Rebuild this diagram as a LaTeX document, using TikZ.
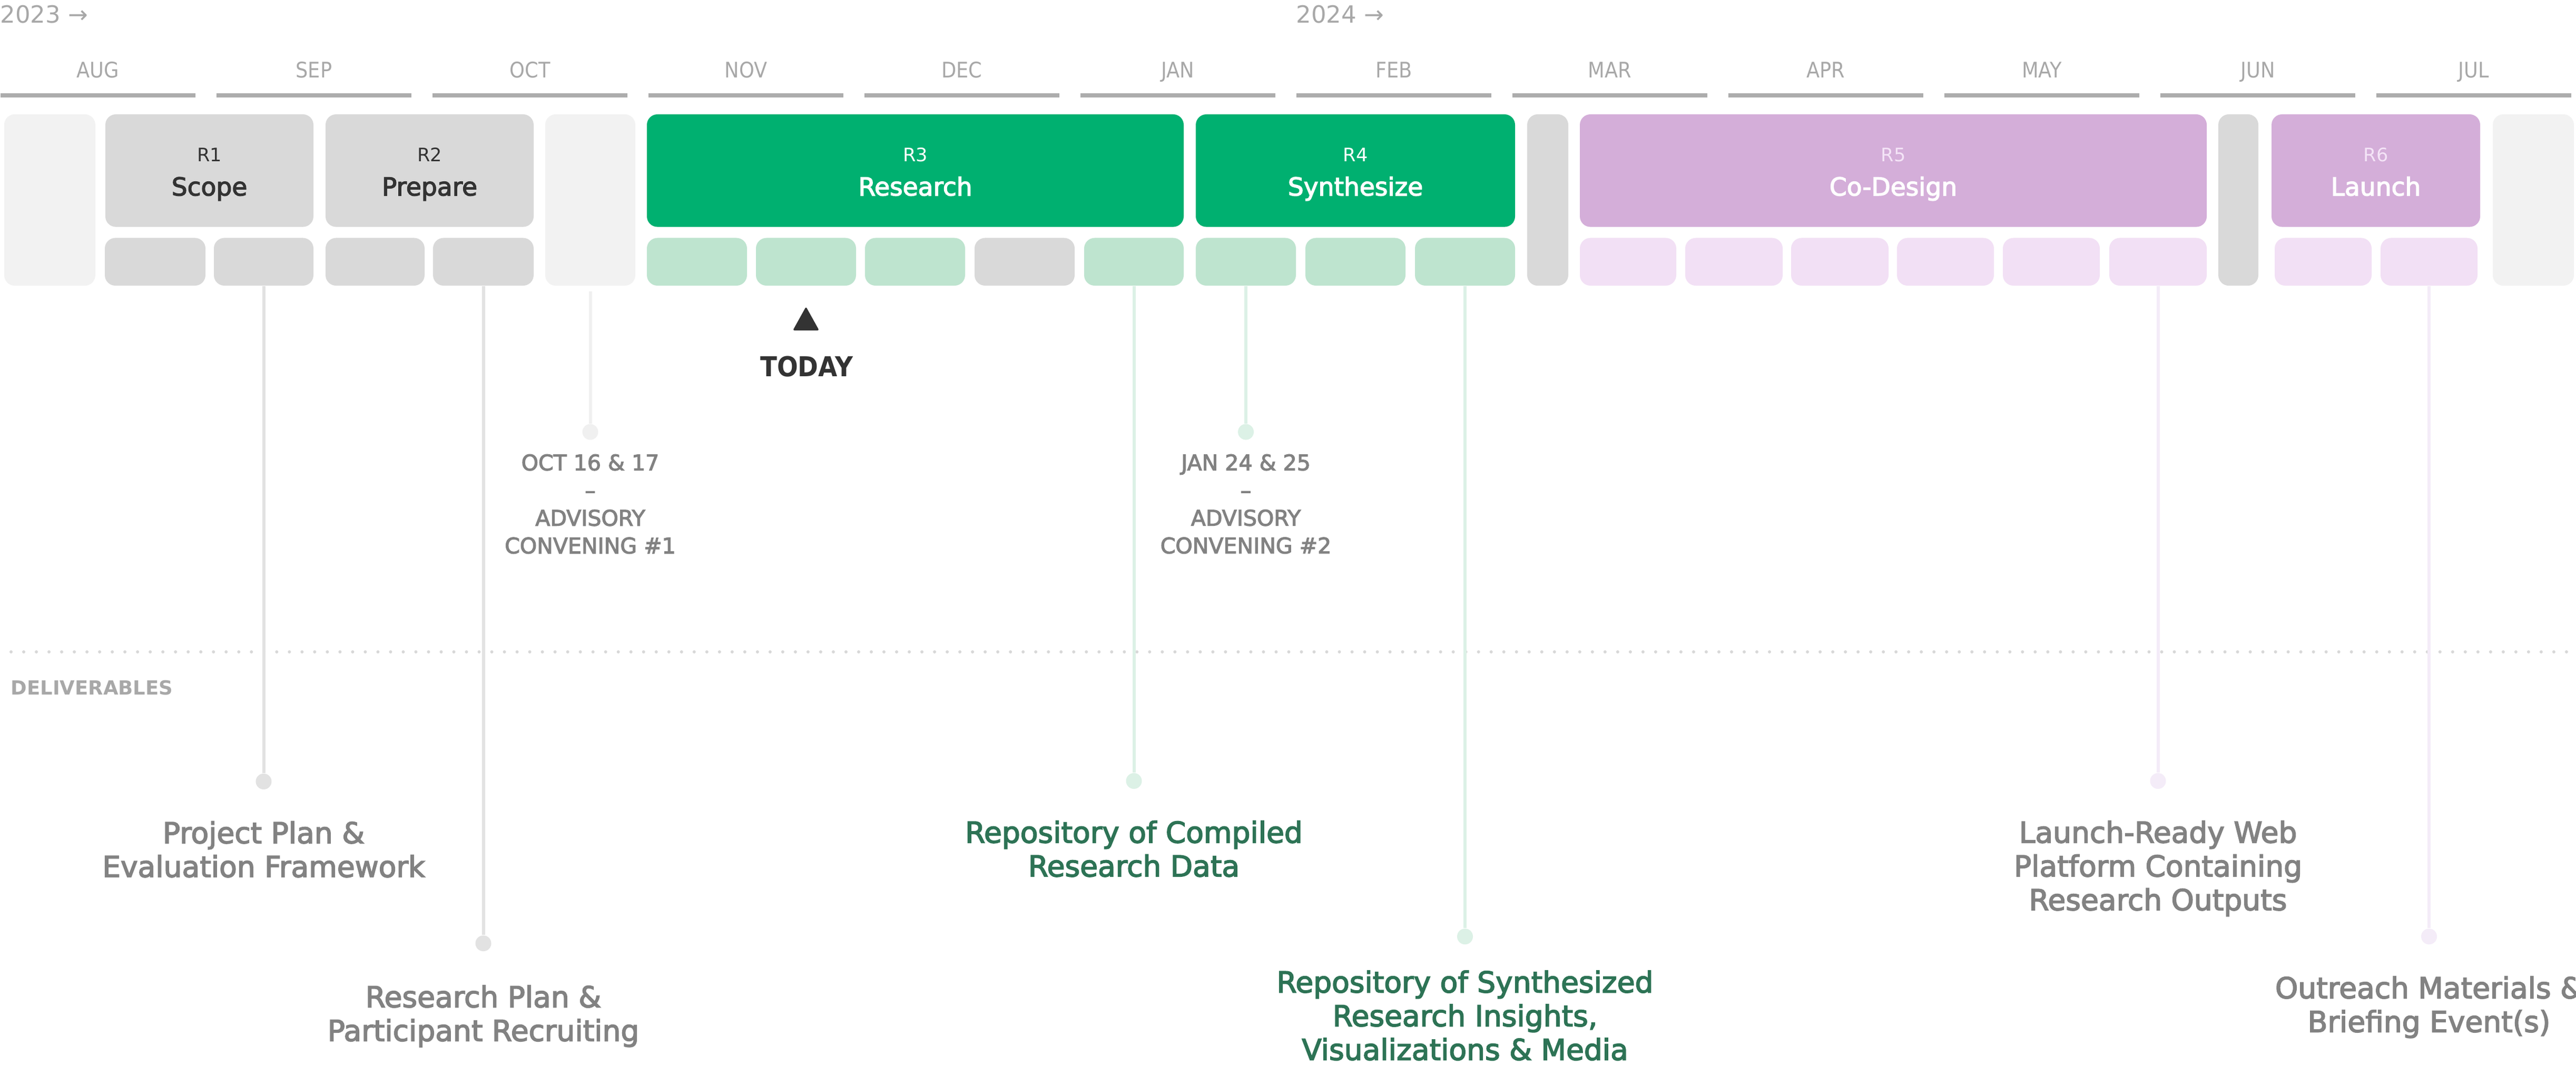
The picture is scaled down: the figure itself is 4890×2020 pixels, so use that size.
\documentclass[tikz,border=0pt]{standalone}
\usepackage{fontspec}
\setmainfont{DejaVu Sans}
\newfontfamily\narrowfont{DejaVu Sans Condensed}
\newfontfamily\medfont{DejaVu Sans}[FakeBold=3]
\usetikzlibrary{positioning}

\definecolor{monthbar}{HTML}{ADADAD}
\definecolor{monthtext}{HTML}{A8A8A8}
\definecolor{paleblock}{HTML}{F2F2F2}
\definecolor{grayblock}{HTML}{D9D9D9}
\definecolor{greenblock}{HTML}{00B070}
\definecolor{greencell}{HTML}{BEE4CF}
\definecolor{purpleblock}{HTML}{D4AED9}
\definecolor{purplecell}{HTML}{F2E0F5}
\definecolor{purplenum}{HTML}{F4E4F7}
\definecolor{darktext}{HTML}{333333}
\definecolor{labeltext}{HTML}{828282}
\definecolor{greentext}{HTML}{2D7355}
\definecolor{linegray}{HTML}{E2E2E2}
\definecolor{linepale}{HTML}{F0F0F0}
\definecolor{linegreen}{HTML}{DCF1E6}
\definecolor{linepurple}{HTML}{F4ECF8}
\definecolor{dotrule}{HTML}{D8D8D8}

\begin{document}
\begin{tikzpicture}[x=0.01cm, y=-0.01cm,
year/.style = {font=\fontsize{12.8}{15}\selectfont, text=monthtext, inner sep=0, anchor=base west},
bar/.style = {rectangle, fill=monthbar, inner sep=0, minimum height=0.08cm, minimum width=3.7cm},
month/.style = {font=\narrowfont\fontsize{11.6}{13}\selectfont, text=monthtext, inner sep=0, text depth=0pt},
block/.style = {rectangle, rounded corners=2mm, inner sep=0},
cell/.style = {block, minimum height=0.905cm},
phase/.style = {block, minimum height=2.135cm},
spacer/.style = {block, minimum height=3.25cm},
rnum/.style = {font=\fontsize{10}{12}\selectfont, inner sep=0, anchor=base},
rtitle/.style = {font=\medfont\fontsize{13.4}{16}\selectfont, inner sep=0, anchor=base},
link/.style = {line width=0.06cm},
dot/.style = {circle, inner sep=0, minimum size=0.3cm},
event/.style = {font=\medfont\fontsize{11.67}{14.94}\selectfont, text=labeltext, align=center, inner sep=0},
deliv/.style = {font=\medfont\fontsize{15.65}{18.21}\selectfont, align=center, inner sep=0}]
\useasboundingbox (0,0) rectangle (4890,2020);
\fill[white] (0,0) rectangle (4890,2020);

% years and months
\node[year] (y23) at (0,43) {2023 →};
\node[year] (y24) at (2460,43) {2024 →};
\foreach \m [count=\i from 0] in {AUG,SEP,OCT,NOV,DEC,JAN,FEB,MAR,APR,MAY,JUN,JUL} {
  \node[bar] (bar\i) at ({186+410*\i},181) {};
  \node[month, above=0.28cm of bar\i] (m\i) {\m};
}

% blocks
\foreach \a/\b/\c [count=\k] in {8/181/paleblock, 1035/1206/paleblock, 2899/2977/grayblock, 4211/4287/grayblock, 4732/4886/paleblock}
  \node[spacer, fill=\c, minimum width={(\b-\a)*0.01cm}] (t\k) at ({(\a+\b)/2},379.5) {};

\foreach \a/\b/\c/\nc/\tc/\n/\t [count=\k] in {200/595/grayblock/darktext/darktext/R1/Scope,
  618/1013/grayblock/darktext/darktext/R2/Prepare,
  1228/2247/greenblock/white/white/R3/Research,
  2270/2876/greenblock/white/white/R4/Synthesize,
  2999/4189/purpleblock/purplenum/white/R5/Co-Design,
  4312/4708/purpleblock/purplenum/white/R6/Launch} {
  \node[phase, fill=\c, minimum width={(\b-\a)*0.01cm}] (r\k) at ({(\a+\b)/2},323.75) {};
  \node[rnum, text=\nc] (n\k) at ([yshift=0.1775cm]r\k.center) {\n};
  \node[rtitle, text=\tc] (l\k) at ([yshift=-0.4725cm]r\k.center) {\t};
}

\foreach \a/\b/\c [count=\k] in {199/390/grayblock, 406/595/grayblock, 618/806/grayblock, 822/1013/grayblock,
  1228/1418/greencell, 1435/1625/greencell, 1642/1832/greencell, 1850/2040/grayblock, 2058/2247/greencell,
  2270/2460/greencell, 2478/2668/greencell, 2686/2876/greencell,
  2999/3182/purplecell, 3199/3384/purplecell, 3400/3585/purplecell, 3601/3785/purplecell, 3802/3986/purplecell, 4004/4189/purplecell,
  4318/4502/purplecell, 4519/4703/purplecell}
  \node[cell, fill=\c, minimum width={(\b-\a)*0.01cm}] (s\k) at ({(\a+\b)/2},496.75) {};

% today
\fill[darktext, rounded corners=0.3mm] (1505,627) -- (1530,582) -- (1555,627) -- cycle;
\node[font=\narrowfont\bfseries\fontsize{14.8}{17}\selectfont, text=darktext, inner sep=0] (today) at (1531,695.5) {TODAY};

% advisory convenings
\node[dot, fill=linepale, below=2.61cm of t2] (e1) {};
\draw[link, linepale, shorten <=0.1cm] (t2) -- (e1);
\node[event, below=0.26cm of e1] (ev1) {OCT 16 \& 17\\–\\ADVISORY\\CONVENING \#1};
\node[dot, fill=linegreen, below=2.61cm of s10] (e2) {};
\draw[link, linegreen] (s10) -- (e2);
\node[event, below=0.26cm of e2] (ev2) {JAN 24 \& 25\\–\\ADVISORY\\CONVENING \#2};

% deliverables
\draw[dotrule, line width=0.06cm, line cap=round, dash pattern=on 0pt off 0.24cm] (21,1237) -- (4890,1237);
\node[font=\bfseries\fontsize{10.5}{12}\selectfont, text=monthtext, inner sep=0, anchor=base west] (dlv) at (20,1318) {DELIVERABLES};

\node[dot, fill=linegray, below=9.24cm of s2] (d1) {};
\draw[link, linegray] (s2) -- (d1);
\node[deliv, text=labeltext, below=0.59cm of d1] (p1) {Project Plan \&\\Evaluation Framework};
\node[dot, fill=linegray, below=12.31cm of s4] (d2) {};
\draw[link, linegray] (s4) -- (d2);
\node[deliv, text=labeltext, below=0.63cm of d2] (p2) {Research Plan \&\\Participant Recruiting};
\node[dot, fill=linegreen, below=9.23cm of s9] (d3) {};
\draw[link, linegreen] (s9) -- (d3);
\node[deliv, text=greentext, below=0.59cm of d3] (p3) {Repository of Compiled\\Research Data};
\node[dot, fill=linegreen, below=12.18cm of s12] (d4) {};
\draw[link, linegreen] (s12) -- (d4);
\node[deliv, text=greentext, below=0.48cm of d4] (p4) {Repository of Synthesized\\Research Insights,\\Visualizations \& Media};
\node[dot, fill=linepurple, below=9.23cm of s18] (d5) {};
\draw[link, linepurple] (s18) -- (d5);
\node[deliv, text=labeltext, below=0.59cm of d5] (p5) {Launch-Ready Web\\Platform Containing\\Research Outputs};
\node[dot, fill=linepurple, below=12.18cm of s20] (d6) {};
\draw[link, linepurple] (s20) -- (d6);
\node[deliv, text=labeltext, below=0.59cm of d6] (p6) {Outreach Materials \&\\Briefing Event(s)};
\end{tikzpicture}
\end{document}
